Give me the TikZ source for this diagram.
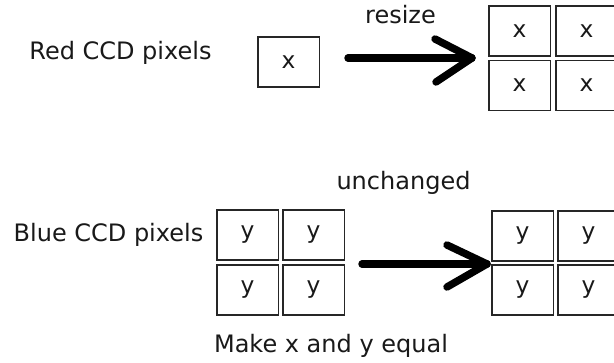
\documentclass[tikz,border=0pt]{standalone}
\usepackage{fontspec}
\setmainfont{DejaVu Sans}
\usetikzlibrary{calc}
\tikzset{
  pix/.style={draw=black!85, line width=1pt, rectangle, inner sep=0pt, outer sep=0pt,
    minimum width=46pt, minimum height=37.5pt, text=black!90, font=\fontsize{17.5}{20}\selectfont},
  lbl/.style={anchor=base, inner sep=0pt, text=black!90, font=\fontsize{18}{21}\selectfont},
  bigarrow/.style={line width=5.6pt, line cap=round, line join=round, black}
}
\begin{document}
\begin{tikzpicture}[x=0.75pt, y=-0.75pt]
\clip (0,0) rectangle (614,363);
\fill[white] (0,0) rectangle (614,363);
% labels
\node[lbl] (redlbl) at (120.5,60) {Red CCD pixels};
\node[lbl] (resize) at (400.5,24) {resize};
\node[lbl] (bluelbl) at (108.5,242) {Blue CCD pixels};
\node[lbl] (unch) at (403.5,190) {unchanged};
\node[lbl] (make) at (331,353) {Make x and y equal};
% red pixels
\node[pix] (r0) at (288.5,62) {x};
\node[pix] (r11) at (519.5,31) {x};
\node[pix] (r12) at (586.5,31) {x};
\node[pix] (r21) at (519.5,85.5) {x};
\node[pix] (r22) at (586.5,85.5) {x};
% blue pixels
\node[pix] (b11) at (247.5,235) {y};
\node[pix] (b12) at (313.5,235) {y};
\node[pix] (b21) at (247.5,290) {y};
\node[pix] (b22) at (313.5,290) {y};
\node[pix] (c11) at (522.5,236) {y};
\node[pix] (c12) at (588.5,236) {y};
\node[pix] (c21) at (522.5,290) {y};
\node[pix] (c22) at (588.5,290) {y};
% arrows
\coordinate (a1s) at (348,58);
\coordinate (a1e) at (472,58);
\coordinate (a2s) at (362,264);
\coordinate (a2e) at (487,264);
\draw[bigarrow] (a1s) -- (a1e);
\draw[bigarrow] ($(a1e)+(-37,-19)$) -- (a1e) -- ($(a1e)+(-36,24)$);
\draw[bigarrow] (a2s) -- (a2e);
\draw[bigarrow] ($(a2e)+(-40,-19)$) -- (a2e) -- ($(a2e)+(-40,23)$);
\end{tikzpicture}
\end{document}
